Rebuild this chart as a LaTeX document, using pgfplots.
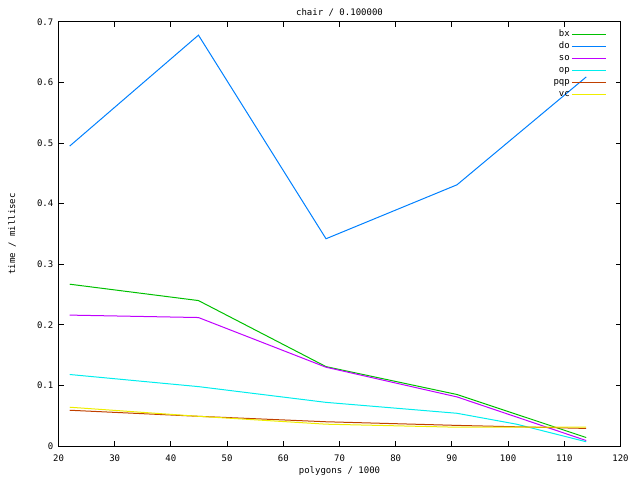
\documentclass[border=0pt]{standalone}
\usepackage{pgfplots}
\pgfplotsset{compat=1.18}
\usepackage{fontspec}
\setmainfont{DejaVu Sans Mono}
\definecolor{cbx}{HTML}{00C000}
\definecolor{cdo}{HTML}{0080FF}
\definecolor{cso}{HTML}{C000FF}
\definecolor{cop}{HTML}{00EEEE}
\definecolor{cpqp}{HTML}{C04000}
\definecolor{cvc}{HTML}{EEEE00}
\begin{document}
\fontsize{9}{10}\selectfont
\begin{tikzpicture}[x=1pt,y=1pt]
\path[use as bounding box] (0,0) rectangle (640,480);
\begin{axis}[
  at={(58.5pt,34pt)}, anchor=south west,
  scale only axis, width=562pt, height=424.2pt,
  xmin=20, xmax=120, ymin=0, ymax=0.7,
  xtick={20,30,...,120},
  ytick={0,0.1,0.2,0.3,0.4,0.5,0.6,0.7},
  yticklabels={0,0.1,0.2,0.3,0.4,0.5,0.6,0.7},
  /pgf/number format/assume math mode=true,
  tick align=inside, major tick length=5pt,
  tick style={black, line width=1pt},
  axis line style={line width=1pt},
  ticklabel style={font=\fontsize{9}{10}\selectfont},
  xticklabel style={yshift=-6pt},
  yticklabel style={xshift=-2pt},
  title={chair / 0.100000},
  title style={at={(axis description cs:0.5,1)}, anchor=base, yshift=0pt, font=\fontsize{9}{10}\selectfont},
  xlabel={polygons / 1000},
  xlabel style={at={(axis description cs:0.5,0)}, anchor=center, yshift=-25pt, font=\fontsize{9}{10}\selectfont},
  ylabel={time / millisec},
  ylabel style={at={(axis description cs:-0.0827,0.5)}, anchor=center, font=\fontsize{9}{10}\selectfont},
  legend plot pos=right,
  legend cell align=right,
  legend style={at={(axis description cs:1,1)}, anchor=north east, xshift=-11pt, yshift=-4pt,
    draw=none, fill=none, row sep=0pt, font=\fontsize{9}{10}\selectfont,
    nodes={inner sep=1.5pt, text height=7pt, text depth=2pt}},
  legend image code/.code={\draw[#1] (0pt,0pt) -- (34pt,0pt);},
  every axis plot/.append style={line width=1pt},
]
\addplot[cbx] coordinates {(22.0,0.267) (44.9,0.240) (67.6,0.131) (90.9,0.085) (113.9,0.014)};
\addlegendentry{bx}
\addplot[cdo] coordinates {(22.0,0.495) (44.9,0.678) (67.6,0.342) (90.9,0.431) (113.9,0.609)};
\addlegendentry{do}
\addplot[cso] coordinates {(22.0,0.216) (44.9,0.212) (67.6,0.130) (90.9,0.081) (113.9,0.009)};
\addlegendentry{so}
\addplot[cop] coordinates {(22.0,0.118) (44.9,0.098) (67.6,0.072) (90.9,0.054) (101.5,0.036) (113.9,0.007)};
\addlegendentry{op}
\addplot[cpqp] coordinates {(22.0,0.059) (44.9,0.049) (67.6,0.040) (90.9,0.034) (113.9,0.029)};
\addlegendentry{pqp}
\addplot[cvc] coordinates {(22.0,0.064) (44.9,0.049) (67.6,0.036) (90.9,0.031) (113.9,0.031)};
\addlegendentry{vc}
\end{axis}
\end{tikzpicture}
\end{document}
